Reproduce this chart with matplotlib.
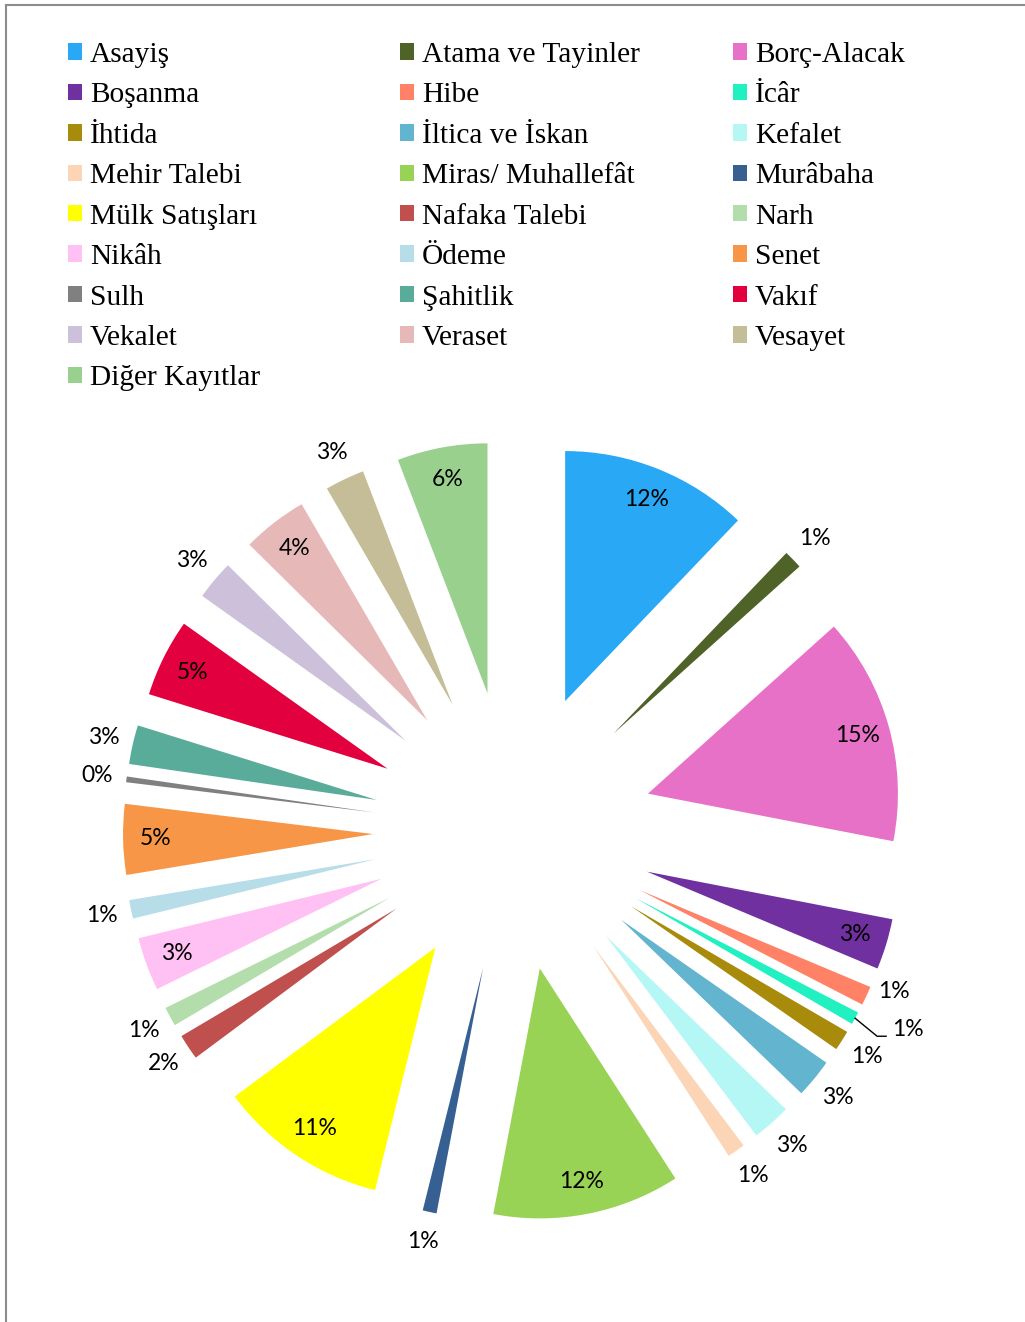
import matplotlib
matplotlib.use("Agg")
import matplotlib.pyplot as plt
import numpy as np
from matplotlib.lines import Line2D

categories = ["Asayiş", "Atama ve Tayinler", "Borç-Alacak", "Boşanma", "Hibe", "İcâr",
              "İhtida", "İltica ve İskan", "Kefalet", "Mehir Talebi", "Miras/ Muhallefât",
              "Murâbaha", "Mülk Satışları", "Nafaka Talebi", "Narh", "Nikâh", "Ödeme",
              "Senet", "Sulh", "Şahitlik", "Vakıf", "Vekalet", "Veraset", "Vesayet",
              "Diğer Kayıtlar"]
values = [12.15, 1.2, 14.7, 3.28, 1.23, 0.82, 1.3, 2.52, 2.52, 1.16, 12.1, 0.9, 10.95,
          1.65, 1.25, 3.45, 1.2, 4.55, 0.37, 2.52, 5.03, 2.55, 4.22, 2.55, 5.83]
colors = ["#29A8F5", "#4F6228", "#E871C8", "#7030A0", "#FF8266", "#21F0C0", "#A88B0A",
          "#62B4CF", "#B5F7F5", "#FBD5B5", "#98D356", "#366092", "#FFFF00", "#C0504D",
          "#B3DEAC", "#FFC0F4", "#B7DEE8", "#F79646", "#808080", "#5AAC9A", "#E2003E",
          "#CCC0DA", "#E6B9B8", "#C4BD97", "#99D08E"]
# label placement: inside ("in") or outside ("out"), "lead" = outside with leader line
label_mode = ["in", "out", "in", "in", "out", "lead", "out", "out", "out", "out", "in",
              "out", "in", "out", "out", "in", "out", "in", "out", "out", "in", "out",
              "in", "out", "in"]
# small vertical nudges of individual labels (data units)
label_dy = [0, 0, 0, 0, 0.07, 0, 0, 0, 0, 0, 0, 0, 0, 0, 0, 0, 0, 0, 0, 0, 0, 0, 0, 0, 0]

W, H = 1025, 1322
fig = plt.figure(figsize=(W / 100, H / 100), dpi=100)

R = 250.0  # pixels per data unit
cx, cy = 513, 831
half = 400
ax = fig.add_axes([(cx - half) / W, (H - cy - half) / H, 2 * half / W, 2 * half / H])

wedges, _ = ax.pie(values, colors=colors, startangle=90, counterclock=False,
                   explode=[0.56] * len(values), radius=1.0,
                   wedgeprops=dict(linewidth=0))
ax.set_xlim(-half / R, half / R)
ax.set_ylim(-half / R, half / R)
ax.set_aspect("equal")
ax.axis("off")

total = sum(values)
pct_font = dict(family=["Lato", "DejaVu Sans"], fontsize=16.5, color="black")
for w, v, mode, dy in zip(wedges, values, label_mode, label_dy):
    th = np.deg2rad((w.theta1 + w.theta2) / 2)
    d = np.array([np.cos(th), np.sin(th)])
    c = np.array(w.center)
    txt = f"{100 * v / total:.0f}%"
    if mode == "in":
        p = c + 0.87 * d
        ax.text(p[0], p[1] + dy, txt, ha="center", va="center", **pct_font)
    elif mode == "out":
        p = c + 1.12 * d
        ax.text(p[0], p[1] + dy, txt, ha="center", va="center", **pct_font)
    else:
        p0 = c + 1.0 * d
        p1 = p0 + np.array([0.088, -0.072])
        p2 = p1 + np.array([0.036, 0])
        ax.add_line(Line2D([p0[0], p1[0], p2[0]], [p0[1], p1[1], p2[1]],
                           color="black", lw=1.0))
        ax.text(p2[0] + 0.024, p2[1] + 0.028 + dy, txt, ha="left", va="center", **pct_font)

# legend: three columns, row-major order
col_x = [68, 400, 733]
for j in range(3):
    leg = fig.legend(wedges[j::3], categories[j::3], loc="upper left",
                     bbox_to_anchor=(col_x[j] / W, 1 - 42 / H),
                     frameon=False, borderpad=0, borderaxespad=0,
                     handlelength=0.48, handleheight=0.48, handletextpad=0.27,
                     labelspacing=0.49,
                     prop=dict(family=["Liberation Serif", "DejaVu Serif"], size=21.2))

# chart border (left and top edges)
fig.add_artist(Line2D([5.5 / W, 5.5 / W], [0, 1 - 4.5 / H], transform=fig.transFigure,
                      color="#8C8C8C", lw=1.5))
fig.add_artist(Line2D([5.5 / W, 1], [1 - 4.5 / H, 1 - 4.5 / H], transform=fig.transFigure,
                      color="#8C8C8C", lw=1.5))

fig.savefig("out.png", dpi=100, facecolor="white")
